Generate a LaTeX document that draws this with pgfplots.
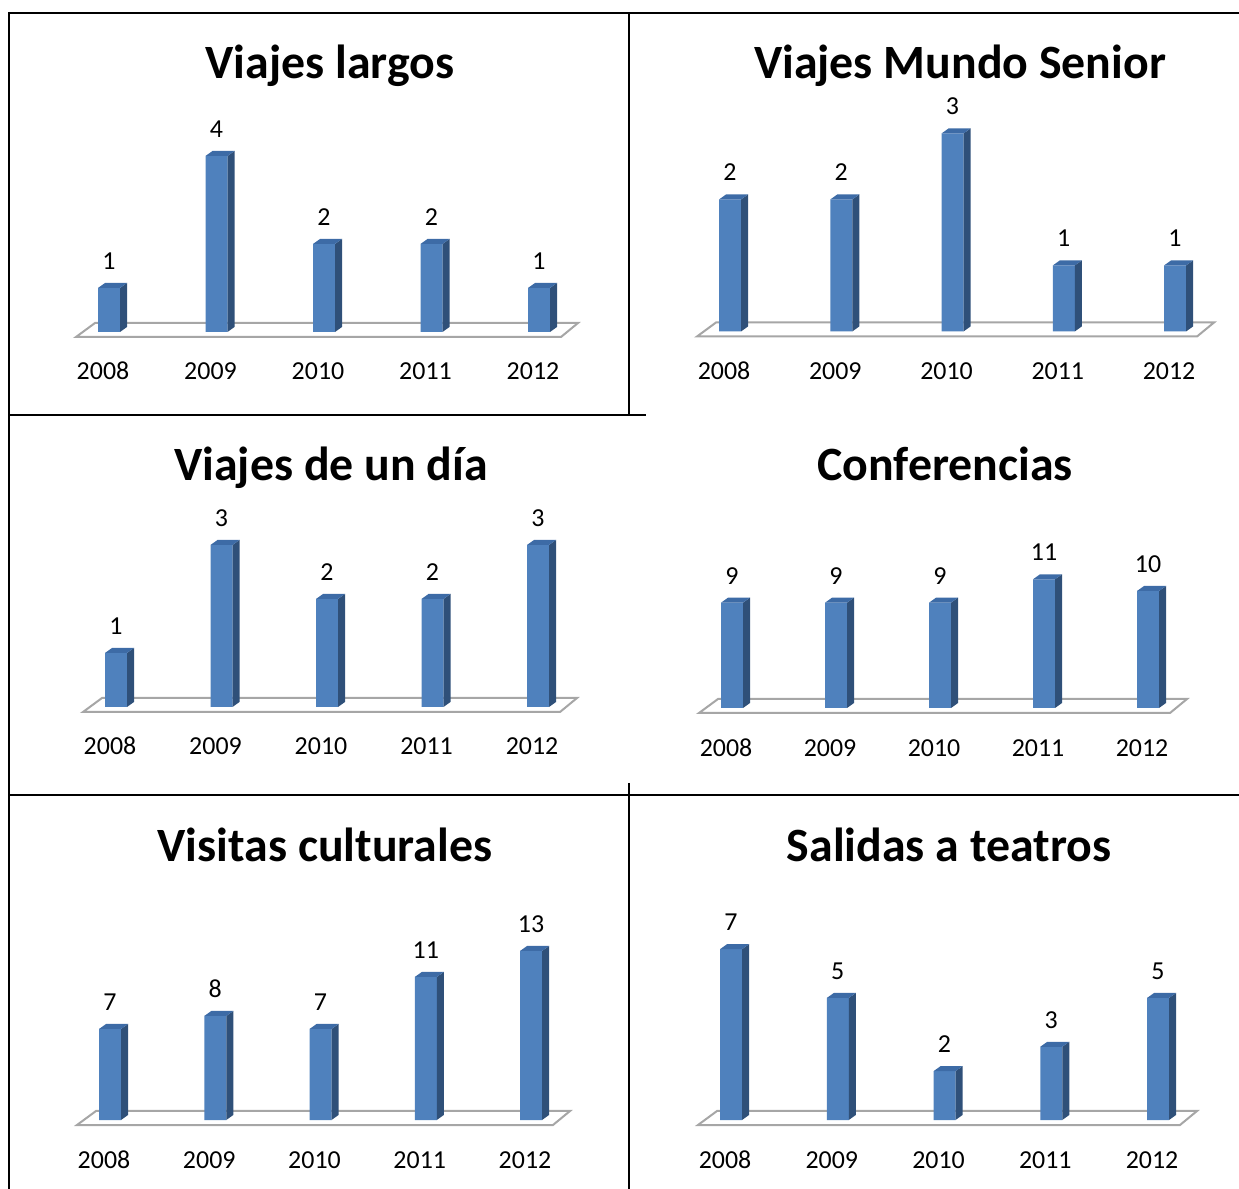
\documentclass[border=0pt]{standalone}
\usepackage{pgfplots}
\pgfplotsset{compat=1.18}
\usepackage{fontspec}
\setmainfont{Carlito}
\definecolor{barfront}{HTML}{4F81BD}
\definecolor{bartop}{HTML}{3D6BA6}
\definecolor{barside}{HTML}{2F5079}
\definecolor{floorgray}{HTML}{A6A6A6}

\pgfdeclareplotmark{none3d}{}
\newcommand\yu{44}
\newcommand\lblfont{\fontsize{26}{30}\selectfont}
\newcommand\ttlfont{\fontsize{48}{56}\selectfont\bfseries}
\newcommand\floor{\draw[floorgray, line width=2bp, fill=white]
  ([xshift=-33bp,yshift=-5bp]axis cs:0,0) -- ([xshift=22bp,yshift=-5bp]axis cs:4,0)
  -- ([xshift=39bp,yshift=9bp]axis cs:4,0) -- ([xshift=-14bp,yshift=9bp]axis cs:0,0) -- cycle;}

\pgfplotsset{
  bar3d/.style={
    scatter, only marks, mark=none3d,
    visualization depends on={rawy \as \bv},
    scatter/@pre marker code/.code={%
      \pgfmathsetmacro\barH{\bv*\yu}%
      \begin{pgfscope}%
      \pgfsetfillcolor{barside}%
      \pgfpathmoveto{\pgfpoint{11bp}{0bp}}%
      \pgfpathlineto{\pgfpoint{18bp}{5bp}}%
      \pgfpathlineto{\pgfpoint{18bp}{5bp-\barH bp}}%
      \pgfpathlineto{\pgfpoint{11bp}{-\barH bp}}%
      \pgfpathclose
      \pgfusepath{fill}%
      \pgfsetfillcolor{bartop}%
      \pgfpathmoveto{\pgfpoint{-11bp}{0bp}}%
      \pgfpathlineto{\pgfpoint{-4bp}{5bp}}%
      \pgfpathlineto{\pgfpoint{18bp}{5bp}}%
      \pgfpathlineto{\pgfpoint{11bp}{0bp}}%
      \pgfpathclose
      \pgfusepath{fill}%
      \end{pgfscope}%
    },
    scatter/@post marker code/.code={},
  },
  bar2d/.style={ybar, bar width=22bp, fill=barfront, draw=none, nodes near coords},
  panel/.style={
    anchor=origin, clip=false,
    xmin=-0.5, xmax=4.5, ymin=0,
    axis x line*=bottom, axis y line=none,
    axis line style={draw=none},
    xtick={0,1,2,3,4}, xticklabels={2008,2009,2010,2011,2012},
    major tick length=0pt, xtick style={draw=none},
    ytick=\empty,
    /pgf/number format/assume math mode=true,
    xticklabel style={anchor=center, font=\lblfont, xshift=-6bp, inner sep=0pt},
    every node near coord/.append style={font=\lblfont, anchor=center, yshift=27bp, xshift=0bp, inner sep=0pt},
  },
}

\begin{document}
\begin{tikzpicture}
\path[use as bounding box] (0bp,0bp) rectangle (1239bp,1189bp);

% table borders
\draw[line width=2.5bp] (9bp,1176bp) -- (646bp,1176bp);
\draw[line width=1.5bp] (646bp,1176bp) -- (1239bp,1176bp);
\draw[line width=2.5bp] (9bp,1177bp) -- (9bp,0bp);
\draw[line width=2.5bp] (629bp,1176bp) -- (629bp,774bp);
\draw[line width=2.5bp] (629bp,406bp) -- (629bp,0bp);
\draw[line width=1.5bp] (9bp,774bp) -- (646bp,774bp);
\draw[line width=1.5bp] (9bp,394bp) -- (1239bp,394bp);

% titles
\node[anchor=base, font=\ttlfont, inner sep=0pt] at (330bp,1110bp) {Viajes largos};
\node[anchor=base, font=\ttlfont, inner sep=0pt] at (960bp,1110bp) {Viajes Mundo Senior};
\node[anchor=base, font=\ttlfont, inner sep=0pt] at (331bp,708bp) {Viajes de un día};
\node[anchor=base, font=\ttlfont, inner sep=0pt] at (945bp,708bp) {Conferencias};
\node[anchor=base, font=\ttlfont, inner sep=0pt] at (325bp,327bp) {Visitas culturales};
\node[anchor=base, font=\ttlfont, inner sep=0pt] at (949bp,327bp) {Salidas a teatros};

% Panel 1: Viajes largos
\renewcommand\yu{44}
\begin{axis}[panel, at={(109bp,857bp)}, x=107.5bp, y=44bp, ymax=4.5,
  xticklabel style={yshift=-39bp}]
\floor
\addplot[bar3d] coordinates {(0,1) (1,4) (2,2) (3,2) (4,1)};
\addplot[bar2d] coordinates {(0,1) (1,4) (2,2) (3,2) (4,1)};
\end{axis}

% Panel 2: Viajes Mundo Senior
\renewcommand\yu{66}
\begin{axis}[panel, at={(730bp,857.5bp)}, x=111.25bp, y=66bp, ymax=3.5,
  xticklabel style={yshift=-39.5bp}]
\floor
\addplot[bar3d] coordinates {(0,2) (1,2) (2,3) (3,1) (4,1)};
\addplot[bar2d] coordinates {(0,2) (1,2) (2,3) (3,1) (4,1)};
\end{axis}

% Panel 3: Viajes de un dia
\renewcommand\yu{54}
\begin{axis}[panel, at={(116bp,482bp)}, x=105.5bp, y=54bp, ymax=3.5,
  xticklabel style={yshift=-39bp}]
\floor
\addplot[bar3d] coordinates {(0,1) (1,3) (2,2) (3,2) (4,3)};
\addplot[bar2d] coordinates {(0,1) (1,3) (2,2) (3,2) (4,3)};
\end{axis}

% Panel 4: Conferencias
\renewcommand\yu{11.7}
\begin{axis}[panel, at={(732bp,481bp)}, x=104bp, y=11.7bp, ymax=12,
  xticklabel style={yshift=-40bp}]
\floor
\addplot[bar3d] coordinates {(0,9) (1,9) (2,9) (3,11) (4,10)};
\addplot[bar2d] coordinates {(0,9) (1,9) (2,9) (3,11) (4,10)};
\end{axis}

% Panel 5: Visitas culturales
\renewcommand\yu{13}
\begin{axis}[panel, at={(110bp,69bp)}, x=105.25bp, y=13bp, ymax=14,
  xticklabel style={yshift=-40bp}]
\floor
\addplot[bar3d] coordinates {(0,7) (1,8) (2,7) (3,11) (4,13)};
\addplot[bar2d] coordinates {(0,7) (1,8) (2,7) (3,11) (4,13)};
\end{axis}

% Panel 6: Salidas a teatros
\renewcommand\yu{24.4}
\begin{axis}[panel, at={(731bp,69bp)}, x=106.75bp, y=24.4bp, ymax=8,
  xticklabel style={yshift=-40bp}]
\floor
\addplot[bar3d] coordinates {(0,7) (1,5) (2,2) (3,3) (4,5)};
\addplot[bar2d] coordinates {(0,7) (1,5) (2,2) (3,3) (4,5)};
\end{axis}
\end{tikzpicture}
\end{document}
